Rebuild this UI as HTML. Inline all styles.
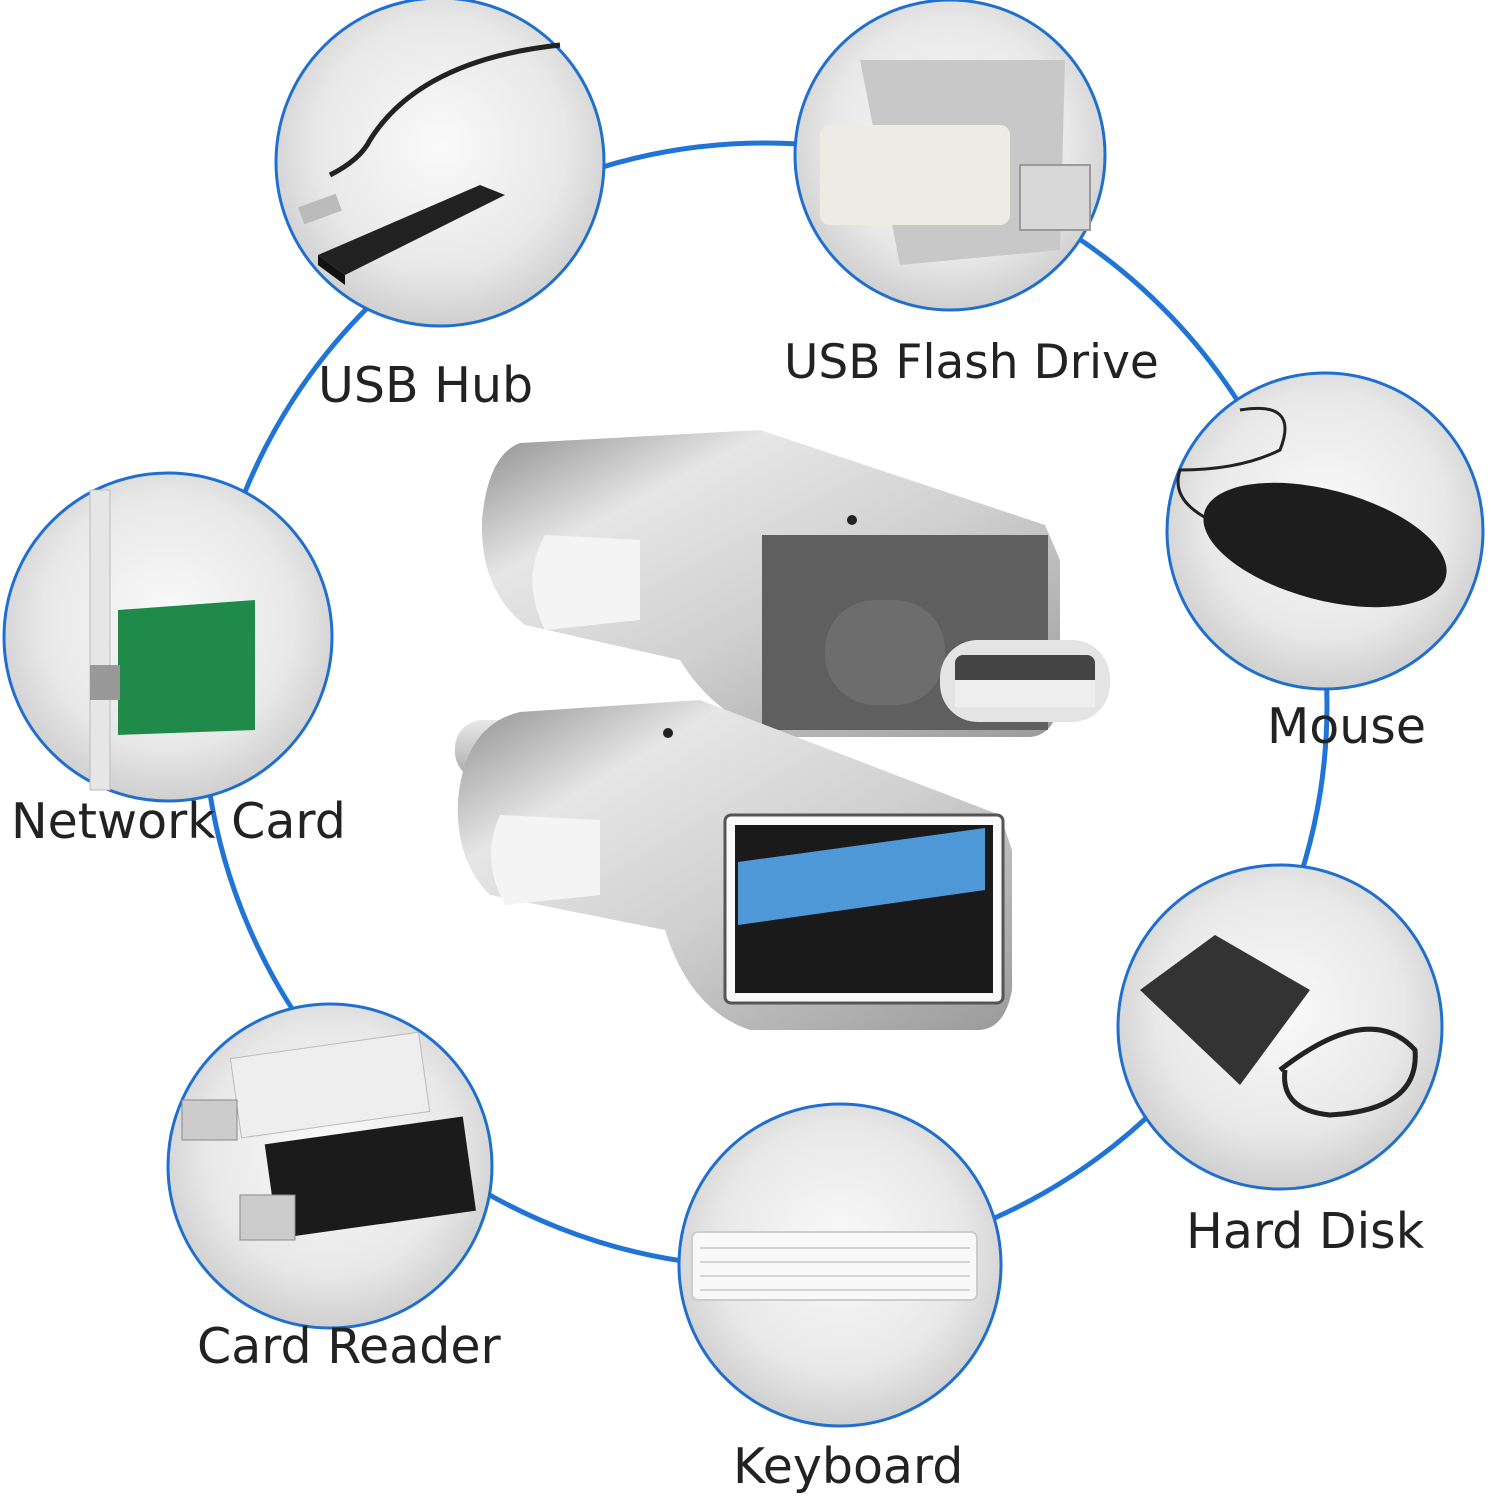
<!DOCTYPE html>
<html><head><meta charset="utf-8"><style>
html,body{margin:0;padding:0;background:#fff;}
svg text{font-family:"DejaVu Sans","Liberation Sans",sans-serif;font-size:49px;fill:#222;}
</style></head><body>
<svg width="1500" height="1500" viewBox="0 0 1500 1500" xmlns="http://www.w3.org/2000/svg">
<defs>
<radialGradient id="cg" cx="50%" cy="45%" r="55%"><stop offset="0" stop-color="#fafafa"/><stop offset="0.7" stop-color="#e8e8e8"/><stop offset="1" stop-color="#cfcfcf"/></radialGradient>
<linearGradient id="metal" x1="0" y1="0" x2="1" y2="1"><stop offset="0" stop-color="#8c8c8c"/><stop offset="0.25" stop-color="#e6e6e6"/><stop offset="0.55" stop-color="#d0d0d0"/><stop offset="1" stop-color="#9a9a9a"/></linearGradient>
<linearGradient id="metal2" x1="0" y1="0" x2="0" y2="1"><stop offset="0" stop-color="#e8e8e8"/><stop offset="1" stop-color="#a8a8a8"/></linearGradient>
</defs>
<circle cx="765" cy="705" r="562" fill="none" stroke="#1f74d6" stroke-width="5"/>
<g stroke="#1f6fcf" stroke-width="3" fill="url(#cg)">
<circle cx="440" cy="162" r="164"/>
<circle cx="950" cy="155" r="155"/>
<circle cx="1325" cy="531" r="158"/>
<circle cx="168" cy="637" r="164"/>
<circle cx="1280" cy="1027" r="162"/>
<circle cx="330" cy="1166" r="162"/>
<circle cx="840" cy="1265" r="161"/>
</g>
<!-- USB hub -->
<path d="M330,175 Q360,160 370,140 Q420,60 560,45" fill="none" stroke="#222" stroke-width="5"/>
<rect x="300" y="200" width="40" height="18" fill="#bbb" transform="rotate(-20 320 209)"/>
<polygon points="318,255 480,185 505,195 345,275" fill="#222"/>
<polygon points="318,255 345,275 345,285 318,265" fill="#111"/>
<!-- flash drive -->
<polygon points="860,60 1065,60 1060,250 900,265" fill="#c8c8c8"/>
<rect x="820" y="125" width="190" height="100" rx="10" fill="#ecebe4"/>
<rect x="1020" y="165" width="70" height="65" fill="#d8d8d8" stroke="#999" stroke-width="2"/>
<!-- mouse -->
<path d="M1240,410 Q1300,400 1280,450 Q1240,470 1180,470 Q1170,500 1210,520" fill="none" stroke="#222" stroke-width="3"/>
<ellipse cx="1325" cy="545" rx="125" ry="55" fill="#1d1d1d" transform="rotate(15 1325 545)"/>
<!-- network card -->
<rect x="90" y="490" width="20" height="300" fill="#e6e6e6" stroke="#bbb"/>
<polygon points="118,610 255,600 255,730 118,735" fill="#1f8a4a"/>
<rect x="90" y="665" width="30" height="35" fill="#999"/>
<!-- hard disk -->
<polygon points="1140,990 1215,935 1310,990 1240,1085" fill="#333"/>
<path d="M1280,1070 Q1370,1000 1415,1050 Q1420,1110 1330,1115 Q1280,1110 1285,1070" fill="none" stroke="#222" stroke-width="5"/>
<!-- card reader -->
<rect x="235" y="1045" width="190" height="80" fill="#eee" stroke="#bbb" transform="rotate(-8 330 1085)"/>
<rect x="182" y="1100" width="55" height="40" fill="#ccc" stroke="#888"/>
<rect x="270" y="1130" width="200" height="95" fill="#1b1b1b" transform="rotate(-8 370 1175)"/>
<rect x="240" y="1195" width="55" height="45" fill="#ccc" stroke="#888"/>
<!-- keyboard -->
<rect x="692" y="1232" width="285" height="68" rx="6" fill="#f8f8f8" stroke="#ccc" stroke-width="2"/>
<g stroke="#d4d4d4" stroke-width="2"><line x1="700" y1="1248" x2="970" y2="1248"/><line x1="700" y1="1262" x2="970" y2="1262"/><line x1="700" y1="1276" x2="970" y2="1276"/><line x1="700" y1="1290" x2="970" y2="1290"/></g>
<!-- adapters -->
<path d="M520,443 L760,430 L1045,525 L1060,560 L1060,700 Q1055,735 1030,737 L790,737 Q720,725 680,660 L525,625 Q480,590 482,520 Q488,455 520,443 Z" fill="url(#metal)"/>
<path d="M545,535 Q520,580 545,630 L640,620 L640,540 Z" fill="#f4f4f4"/>
<rect x="762" y="535" width="286" height="195" fill="#5f5f5f"/>
<rect x="825" y="600" width="120" height="105" rx="50" fill="#6d6d6d"/>
<rect x="940" y="640" width="170" height="82" rx="38" fill="#e4e4e4"/>
<rect x="955" y="655" width="140" height="52" rx="8" fill="#444"/>
<rect x="955" y="680" width="140" height="27" fill="#eee"/>
<circle cx="852" cy="520" r="5" fill="#222"/>
<rect x="455" y="720" width="90" height="60" rx="28" fill="url(#metal2)"/>
<path d="M520,712 L700,700 L1000,815 L1012,850 L1012,990 Q1005,1028 980,1030 L750,1030 Q690,1010 665,930 L490,895 Q455,860 458,800 Q465,725 520,712 Z" fill="url(#metal)"/>
<path d="M500,815 Q480,860 505,905 L600,895 L600,820 Z" fill="#f4f4f4"/>
<rect x="725" y="815" width="278" height="188" rx="6" fill="#fafafa" stroke="#555" stroke-width="3"/>
<rect x="735" y="825" width="258" height="168" fill="#1a1a1a"/>
<polygon points="738,862 985,828 985,890 738,925" fill="#4f98d8"/>
<circle cx="668" cy="733" r="5" fill="#222"/>
<text x="318" y="402">USB Hub</text>
<text x="784" y="378" style="font-size:47px">USB Flash Drive</text>
<text x="1267" y="743">Mouse</text>
<text x="11" y="838">Network Card</text>
<text x="1186" y="1248">Hard Disk</text>
<text x="197" y="1363">Card Reader</text>
<text x="733" y="1483">Keyboard</text>
</svg>
</body></html>
